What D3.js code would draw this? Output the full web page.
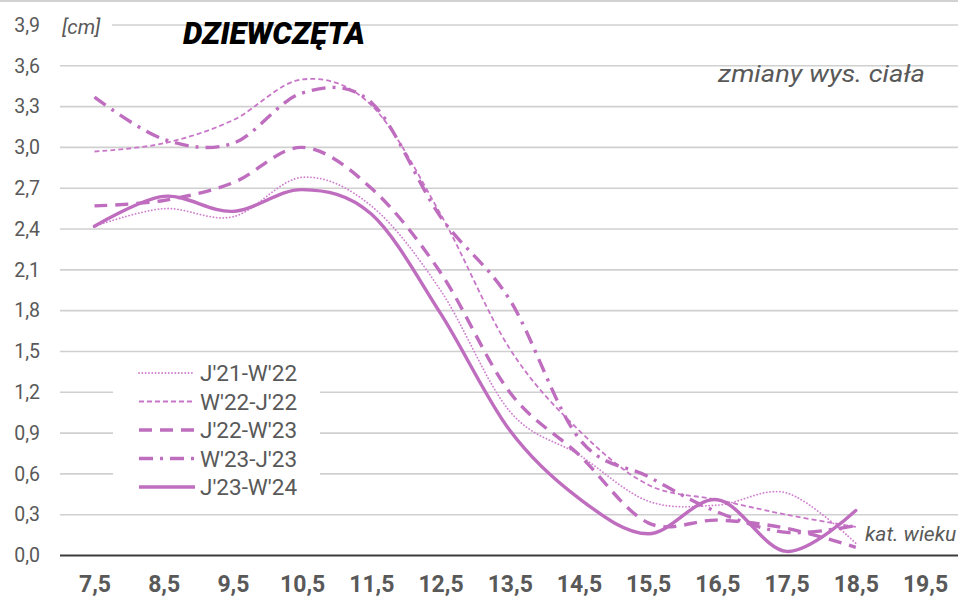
<!DOCTYPE html>
<html>
<head>
<meta charset="utf-8">
<script src="https://cdn.jsdelivr.net/npm/d3@7/dist/d3.min.js"></script>
<style>
  html, body { margin: 0; padding: 0; background: #fff; }
  svg { display: block; }
</style>
</head>
<body>
<svg id="chart" width="958" height="599"></svg>
<script>
// Age categories on the x axis (the last one carries no data)
const ages = ["7,5", "8,5", "9,5", "10,5", "11,5", "12,5", "13,5", "14,5", "15,5", "16,5", "17,5", "18,5", "19,5"];
// Y axis tick values [cm]
const yTicks = [0, 0.3, 0.6, 0.9, 1.2, 1.5, 1.8, 2.1, 2.4, 2.7, 3.0, 3.3, 3.6, 3.9];

// Height gain per age group, girls, for each measurement period [cm]
const seriesNames = ["J'21-W'22", "W'22-J'22", "J'22-W'23", "W'23-J'23", "J'23-W'24"];
const j21w22 = [2.42, 2.55, 2.49, 2.78, 2.57, 1.95, 1.06, 0.74, 0.40, 0.37, 0.46, 0.09];
const w22j22 = [2.97, 3.03, 3.20, 3.50, 3.31, 2.51, 1.52, 0.92, 0.52, 0.41, 0.30, 0.21];
const j22w23 = [2.57, 2.61, 2.74, 3.00, 2.70, 2.08, 1.20, 0.74, 0.24, 0.26, 0.20, 0.06];
const w23j23 = [3.37, 3.06, 3.03, 3.40, 3.33, 2.49, 1.88, 0.86, 0.58, 0.32, 0.17, 0.22];
const j23w24 = [2.42, 2.64, 2.53, 2.69, 2.51, 1.78, 0.92, 0.42, 0.16, 0.41, 0.03, 0.33];

const seriesValues = [j21w22, w22j22, j22w23, w23j23, j23w24];

// Stroke styles per series
const styles = [
  { color: "#d07fd0", width: 1.8, dash: "0.1,3.2", cap: "round" },
  { color: "#c877c8", width: 1.8, dash: "5,3", cap: "butt" },
  { color: "#bf6dbf", width: 3.4, dash: "13,8", cap: "butt" },
  { color: "#bf6dbf", width: 3.4, dash: "14,7,3,7", cap: "butt" },
  { color: "#bf6dbf", width: 3.4, dash: null, cap: "round" }
];

const svg = d3.select("#chart");
const W = 958;
const FONT = "Roboto, 'Liberation Sans', sans-serif";

const x = d3.scalePoint().domain(ages).range([94.5, 925]);
const y = d3.scaleLinear().domain([0, 3.9]).range([555.5, 25]);
const fmt = d => d.toFixed(1).replace(".", ",");

// top frame line
svg.append("line")
  .attr("x1", 0).attr("x2", W).attr("y1", 1).attr("y2", 1)
  .attr("stroke", "#d2d2d2").attr("stroke-width", 2);

// horizontal gridlines
svg.append("g")
  .selectAll("line")
  .data(yTicks.filter(v => v > 0))
  .join("line")
  .attr("x1", 60).attr("x2", W)
  .attr("y1", d => y(d)).attr("y2", d => y(d))
  .attr("stroke", "#d0d0d0").attr("stroke-width", 1.6);

// y axis labels
const yAxis = d3.axisLeft(y).tickValues(yTicks).tickFormat(fmt).tickSize(0).tickPadding(0);
const gy = svg.append("g").attr("transform", "translate(40,0)").call(yAxis);
gy.select(".domain").remove();
gy.selectAll("text")
  .attr("font-family", FONT)
  .attr("font-size", 19.5)
  .attr("fill", "#595959");

// x axis labels
const xAxis = d3.axisBottom(x).tickSize(0).tickPadding(0);
const gx = svg.append("g").attr("transform", "translate(0,576)").call(xAxis);
gx.select(".domain").remove();
gx.selectAll("text")
  .attr("dy", "0.71em")
  .attr("font-family", FONT)
  .attr("font-weight", 700)
  .attr("font-size", 23)
  .attr("fill", "#595959");

// white patch behind the unit label
svg.append("rect").attr("x", 58).attr("y", 14).attr("width", 54).attr("height", 28).attr("fill", "#fff");
svg.append("text")
  .attr("x", 62).attr("y", 34)
  .attr("font-family", FONT)
  .attr("font-style", "italic")
  .attr("font-size", 20.5)
  .attr("fill", "#595959")
  .text("[cm]");

// title
svg.append("text")
  .attr("x", 183).attr("y", 44)
  .attr("font-family", FONT)
  .attr("font-style", "italic")
  .attr("font-weight", 900)
  .attr("font-size", 31)
  .attr("textLength", 182)
  .attr("lengthAdjust", "spacingAndGlyphs")
  .attr("fill", "#000")
  .text("DZIEWCZĘTA");

svg.append("text")
  .attr("x", 718).attr("y", 82)
  .attr("font-family", FONT)
  .attr("font-style", "italic")
  .attr("font-size", 24)
  .attr("textLength", 207)
  .attr("lengthAdjust", "spacingAndGlyphs")
  .attr("fill", "#595959")
  .text("zmiany wys. ciała");

// legend box
const legend = svg.append("g");
legend.append("rect")
  .attr("x", 113).attr("y", 358).attr("width", 207).attr("height", 142)
  .attr("fill", "#fff");

// lines
const line = d3.line()
  .x((d, i) => x(ages[i]))
  .y(d => y(d))
  .curve(d3.curveCardinal.tension(0));

const plot = svg.append("g");
seriesValues.forEach((vals, k) => {
  const s = styles[k];
  plot.append("path")
    .attr("d", line(vals))
    .attr("fill", "none")
    .attr("stroke", s.color)
    .attr("stroke-width", s.width)
    .attr("stroke-dasharray", s.dash)
    .attr("stroke-linecap", s.cap)
    .attr("stroke-linejoin", "round");
});

// zero axis line
svg.append("line")
  .attr("x1", 60).attr("x2", W).attr("y1", y(0)).attr("y2", y(0))
  .attr("stroke", "#3c3c3c").attr("stroke-width", 2.2);

// legend entries
const rowY = d3.scaleLinear().domain([0, 4]).range([373, 487]);
seriesNames.forEach((name, k) => {
  const s = styles[k];
  const yy = rowY(k);
  legend.append("line")
    .attr("x1", 139).attr("x2", 195).attr("y1", yy).attr("y2", yy)
    .attr("stroke", s.color)
    .attr("stroke-width", s.width)
    .attr("stroke-dasharray", s.dash)
    .attr("stroke-linecap", s.cap === "round" && s.dash ? "round" : "butt");
  legend.append("text")
    .attr("x", 200).attr("y", yy)
    .attr("dy", "0.36em")
    .attr("font-family", FONT)
    .attr("font-size", 22.5)
    .attr("fill", "#595959")
    .text(name);
});

// category axis caption
svg.append("text")
  .attr("x", 865).attr("y", 541)
  .attr("font-family", FONT)
  .attr("font-style", "italic")
  .attr("font-size", 21)
  .attr("fill", "#595959")
  .text("kat. wieku");
</script>
</body>
</html>
